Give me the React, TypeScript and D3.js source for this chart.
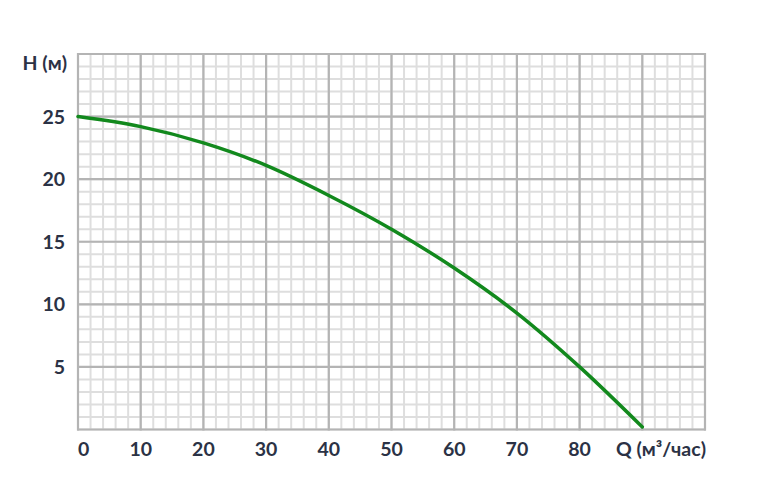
import React from "react";
import * as d3 from "d3";

const width = 772;
const height = 490;

// pump curve
const flow = [0, 10, 20, 30, 40, 50, 60, 70, 80, 90];
const head = [25, 24.2, 22.9, 21.1, 18.7, 16.0, 12.9, 9.3, 5.0, 0.2];

const xTicks = [0, 10, 20, 30, 40, 50, 60, 70, 80];
const yTicks = [5, 10, 15, 20, 25];
const xTitle = "Q (м³/час)";
const yTitle = "H (м)";

const margin = { top: 54, right: 67, bottom: 60.5, left: 78 };

const textColor = "#2b3245";
const font = "Lato, 'Open Sans', sans-serif";

export default function App() {
  const x = d3.scaleLinear()
    .domain([0, 100])
    .range([margin.left, width - margin.right]);

  const y = d3.scaleLinear()
    .domain([0, 30])
    .range([height - margin.bottom, margin.top]);

  const minorX = d3.range(0, 101, 2);
  const minorY = d3.range(0, 31, 1);
  const majorX = d3.range(0, 101, 10);
  const majorY = d3.range(0, 31, 5);

  const points = flow.map((q, i) => [q, head[i]] as [number, number]);
  const line = d3.line<[number, number]>()
    .x(d => x(d[0]))
    .y(d => y(d[1]))
    .curve(d3.curveMonotoneX);

  const [x0, x1] = x.range();
  const [y0, y1] = y.range();

  return (
    <svg width={width} height={height} style={{ position: "absolute", left: 0, top: 0 }}>
      <rect width={width} height={height} fill="#fff" />
      <g stroke="#dedede" strokeWidth={2}>
        {minorX.map(v => (
          <line key={"mx" + v} x1={x(v)} x2={x(v)} y1={y1} y2={y0} />
        ))}
        {minorY.map(v => (
          <line key={"my" + v} x1={x0} x2={x1} y1={y(v)} y2={y(v)} />
        ))}
      </g>
      <g stroke="#b4b4b4" strokeWidth={2.2}>
        {majorX.map(v => (
          <line key={"Mx" + v} x1={x(v)} x2={x(v)} y1={y1 - 1} y2={y0 + 1} />
        ))}
        {majorY.map(v => (
          <line key={"My" + v} x1={x0 - 1} x2={x1 + 1} y1={y(v)} y2={y(v)} />
        ))}
      </g>
      <path d={line(points) || ""} fill="none" stroke="#12891d" strokeWidth={3.5} strokeLinecap="round" />
      <g fill={textColor} fontFamily={font} fontWeight={700} fontSize={19.5}>
        {yTicks.map(v => (
          <text key={"yt" + v} x={65} y={y(v) + 7} textAnchor="end">{v}</text>
        ))}
        <text x={67} y={69.5} textAnchor="end">{yTitle}</text>
        {xTicks.map(v => (
          <text key={"xt" + v} x={x(v)} y={456} textAnchor={v === 0 ? "start" : "middle"}>{v}</text>
        ))}
        <text x={x1 + 1} y={456} textAnchor="end">{xTitle}</text>
      </g>
    </svg>
  );
}
